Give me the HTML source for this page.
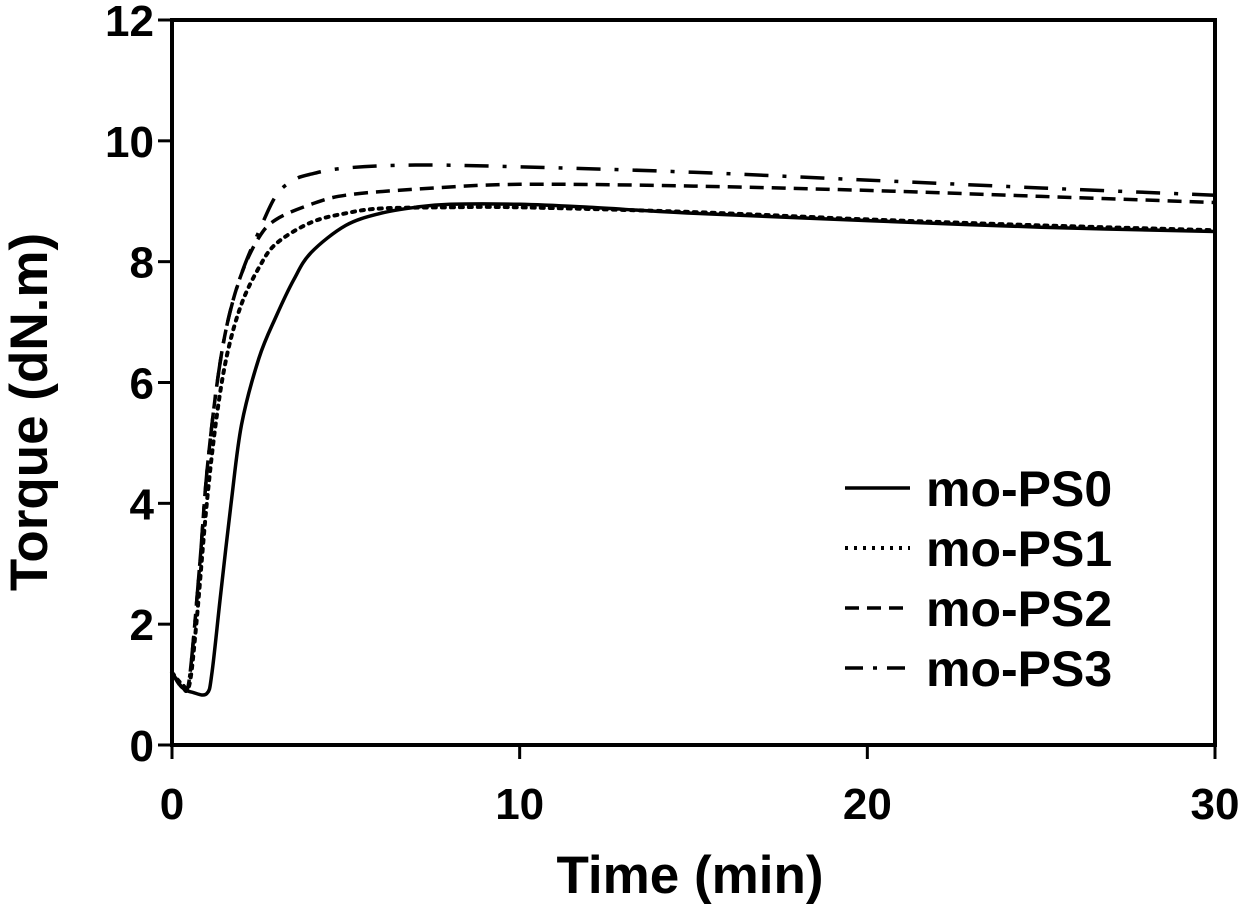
<!DOCTYPE html>
<html><head><meta charset="utf-8"><style>
html,body{margin:0;padding:0;background:#fff;}
svg{display:block;font-family:"Liberation Sans",Arial,sans-serif;font-weight:bold;}
</style></head><body>
<svg id="chart" width="1243" height="906"></svg>
<script>
const xTicks=[0,10,20,30];
const yTicks=[0,2,4,6,8,10,12];
const seriesNames=["mo-PS0","mo-PS1","mo-PS2","mo-PS3"];
const ps0T=[0,0.3,0.6,1.0,1.15,1.4,1.7,2.0,2.5,3,3.5,4,5,6,7,8,10,12,15,20,25,30];
const ps0V=[1.2,0.95,0.87,0.85,1.2,2.5,4,5.3,6.4,7.1,7.7,8.15,8.6,8.8,8.9,8.95,8.95,8.9,8.8,8.68,8.57,8.5];
const ps1T=[0,0.3,0.5,0.7,1.0,1.3,1.6,2,2.5,3,4,5,6,8,10,15,20,25,30];
const ps1V=[1.2,1.0,1.0,2,4,5.5,6.5,7.3,7.9,8.3,8.65,8.8,8.88,8.9,8.9,8.82,8.7,8.6,8.52];
const ps2T=[0,0.3,0.5,0.8,1.0,1.3,1.6,2,2.5,3,4,5,7,10,15,20,25,30];
const ps2V=[1.2,0.95,1.1,3,4.5,6,7,7.8,8.4,8.7,8.95,9.1,9.2,9.28,9.25,9.18,9.08,8.98];
const ps3T=[0,0.3,0.5,0.8,1.0,1.3,1.6,2,2.5,3,3.5,4,5,7,10,15,20,25,30];
const ps3V=[1.2,0.95,1.1,3,4.5,6,7,7.8,8.5,9.1,9.35,9.45,9.55,9.6,9.57,9.48,9.35,9.22,9.1];

const NS="http://www.w3.org/2000/svg";
const svg=document.getElementById('chart');
const L=172,R=1215,T=20,B=745;
const xs=t=>L+(t/30)*(R-L);
const ys=v=>B-(v/12)*(B-T);
function mk(tag,attrs,parent){const e=document.createElementNS(NS,tag);for(const k in attrs)e.setAttribute(k,attrs[k]);(parent||svg).appendChild(e);return e;}

function smooth(pts){
  let d="M"+pts[0][0].toFixed(1)+","+pts[0][1].toFixed(1);
  for(let i=0;i<pts.length-1;i++){
    const p0=pts[Math.max(0,i-1)],p1=pts[i],p2=pts[i+1],p3=pts[Math.min(pts.length-1,i+2)];
    const c1=[p1[0]+(p2[0]-p0[0])/6,p1[1]+(p2[1]-p0[1])/6];
    const c2=[p2[0]-(p3[0]-p1[0])/6,p2[1]-(p3[1]-p1[1])/6];
    d+="C"+c1.map(v=>v.toFixed(1))+" "+c2.map(v=>v.toFixed(1))+" "+p2.map(v=>v.toFixed(1));
  }
  return d;
}

const dashes=["none","3,6","14,8","24,14,4,14"];
const widths=[3.5,4,3.5,3.5];
const allT=[ps0T,ps1T,ps2T,ps3T], allV=[ps0V,ps1V,ps2V,ps3V];
allT.forEach((tt,i)=>{
  const pts=tt.map((t,j)=>[xs(t),ys(allV[i][j])]);
  const p=mk('path',{d:smooth(pts),fill:'none',stroke:'#000','stroke-width':widths[i],'stroke-dasharray':dashes[i],'stroke-linecap':i==1?'round':'butt','stroke-linejoin':'round'});
  
  
});

const frame=mk('rect',{x:L,y:T,width:R-L,height:B-T,fill:'none',stroke:'#000','stroke-width':4});



yTicks.forEach(v=>{
  const ln=mk('line',{x1:L-14,x2:L,y1:ys(v),y2:ys(v),stroke:'#000','stroke-width':3});
  
  
  const tx=mk('text',{x:L-18,y:ys(v)+16,'text-anchor':'end','font-size':44});
  tx.textContent=v;
  
  
});
xTicks.forEach(v=>{
  const ln=mk('line',{x1:xs(v),x2:xs(v),y1:B,y2:B+14,stroke:'#000','stroke-width':3});
  
  
  const tx=mk('text',{x:xs(v),y:B+74,'text-anchor':'middle','font-size':44});
  tx.textContent=v;
  
  
});
const xt=mk('text',{x:690,y:893,'text-anchor':'middle','font-size':53});
xt.textContent="Time (min)";


const yt=mk('text',{x:0,y:0,'text-anchor':'middle','font-size':53,transform:'translate(47,412) rotate(-90)'});
yt.textContent="Torque (dN.m)";



seriesNames.forEach((n,i)=>{
  const y=488+i*60;
  const g=mk('g',{});
  
  
  mk('line',{x1:845,x2:910,y1:y,y2:y,stroke:'#000','stroke-width':widths[i],'stroke-dasharray':i==3?'18,10,4,10':dashes[i]},g);
  const tx=mk('text',{x:926,y:y+18,'font-size':50},g);
  tx.textContent=n;
});
</script>
</body></html>
